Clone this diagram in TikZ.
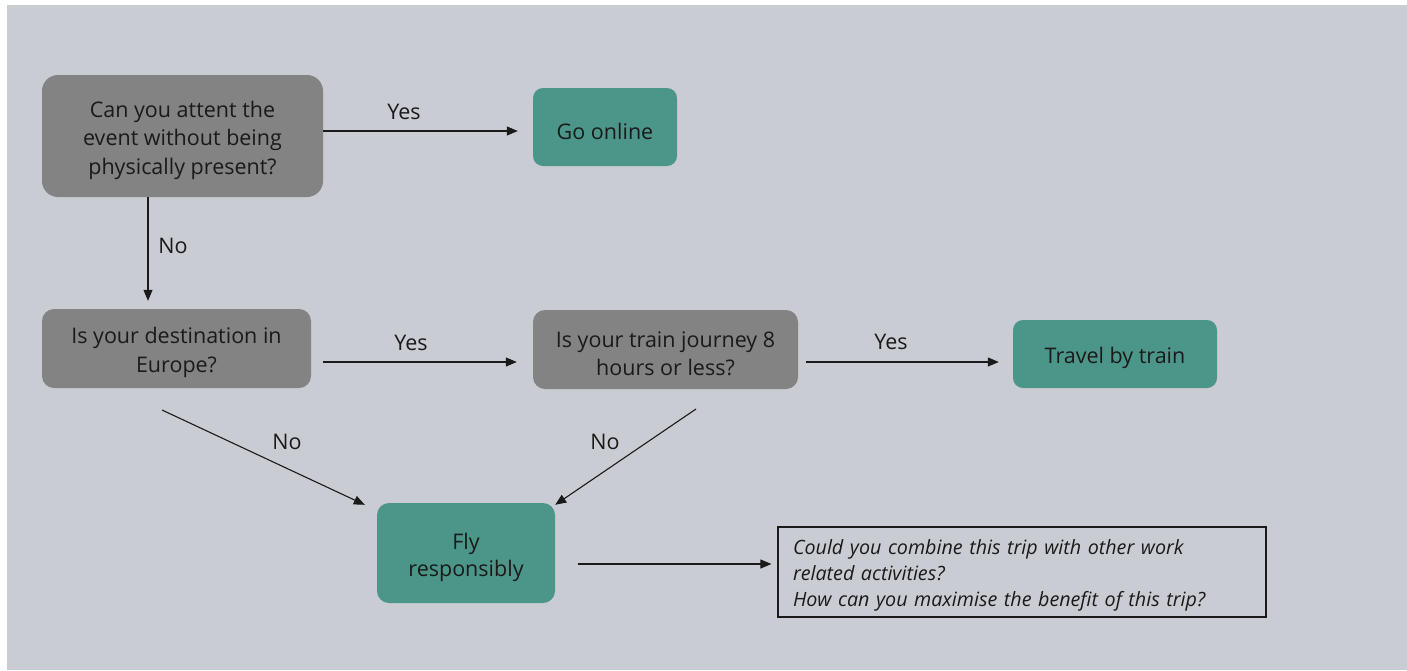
\documentclass[tikz,border=0pt]{standalone}
\usepackage{fontspec}
\setmainfont{Open Sans}
\usetikzlibrary{arrows.meta}
\definecolor{bg}{HTML}{C9CCD3}
\definecolor{qgrey}{HTML}{838383}
\definecolor{teal}{HTML}{4C9689}
\definecolor{ink}{HTML}{1A1A1A}
\newcommand{\toppad}{\rule{0pt}{24.5pt}}
\newcommand{\notepad}{\rule{0pt}{22.5pt}}
\tikzset{
  qbox/.style={fill=qgrey, rounded corners=12pt, align=center, text=ink, inner sep=0pt,
    font=\fontsize{21.5}{28.5}\selectfont},
  abox/.style={fill=teal, rounded corners=10pt, align=center, text=ink, inner sep=0pt,
    font=\fontsize{21.5}{27}\selectfont},
  notebox/.style={draw=ink, line width=1.2pt, fill=bg, align=left, text=ink, inner ysep=0pt,
    inner xsep=15pt, font=\fontsize{19.7}{26}\selectfont\itshape},
  arr/.style={draw=ink, line width=1.1pt, -{Triangle[length=11pt,width=9pt]}},
  lbl/.style={text=ink, font=\fontsize{21.5}{24}\selectfont, inner sep=0pt}
}
\begin{document}
\begin{tikzpicture}[x=1pt,y=-1pt]
\useasboundingbox (0,0) rectangle (1407,670);
\fill[bg] (7,5) rectangle (1407,670);

\node[qbox, minimum width=281pt, minimum height=122pt, rounded corners=16pt] (q1) at (182.5,136)
  {\toppad Can you attent the\\event without being\\physically present?};
\node[abox, minimum width=144pt, minimum height=78pt] (go) at (605,127) {\toppad Go online};
\node[qbox, minimum width=269pt, minimum height=79pt] (q2) at (176.5,348.5)
  {\toppad Is your destination in\\Europe?};
\node[qbox, minimum width=265pt, minimum height=79pt] (q3) at (665.5,349.5)
  {\toppad Is your train journey 8\\hours or less?};
\node[abox, minimum width=204pt, minimum height=68pt] (tr) at (1115,354) {\toppad Travel by train};
\node[abox, minimum width=178pt, minimum height=100pt, rounded corners=12pt] (fly) at (466,553)
  {\toppad Fly\\responsibly};
\node[notebox, minimum width=488pt, minimum height=90pt, text width=458pt] (note) at (1022,572)
  {\notepad Could you combine this trip with other work\\related activities?\\How can you maximise the benefit of this trip?};

\draw[arr, shorten >=15pt] (q1.east |- 0,131) -- (go.west |- 0,131);
\node[lbl] (y1) at (404,112) {Yes};
\draw[arr, shorten >=8pt] (q1.south -| 148,0) -- (q2.north -| 148,0);
\node[lbl] (n1) at (173,246) {No};
\draw[arr, shorten <=12pt, shorten >=16pt] (q2.east |- 0,362) -- (q3.west |- 0,362);
\node[lbl] (y2) at (411,343) {Yes};
\draw[arr, shorten <=8pt, shorten >=14pt] (q3.east |- 0,362) -- (tr.west |- 0,362);
\node[lbl] (y3) at (891,342) {Yes};
\coordinate (s2) at (162,410);
\coordinate (s3) at (696,409);
\draw[arr] (s2) -- ([xshift=-12pt,yshift=-2pt]fly.north west);
\node[lbl] (n2) at (287,442) {No};
\draw[arr] (s3) -- ([yshift=-2pt]fly.north east);
\node[lbl] (n3) at (605,442) {No};
\draw[arr, shorten <=23pt, shorten >=6pt] (fly.east |- 0,564) -- (note.west |- 0,564);
\end{tikzpicture}
\end{document}
